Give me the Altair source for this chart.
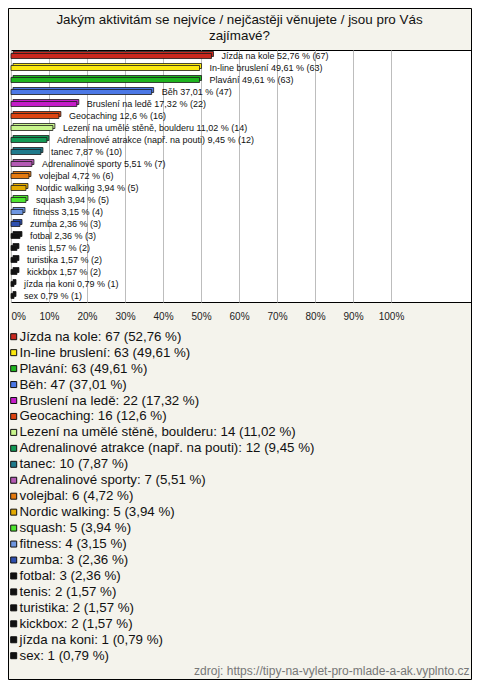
import altair as alt
import pandas as pd

title_lines = ["Jakým aktivitám se nejvíce / nejčastěji věnujete / jsou pro Vás", "zajímavé?"]
source_text = "zdroj: https://tipy-na-vylet-pro-mlade-a-ak.vyplnto.cz"

categories = [
    "Jízda na kole", "In-line bruslení", "Plavání", "Běh", "Bruslení na ledě",
    "Geocaching", "Lezení na umělé stěně, boulderu", "Adrenalinové atrakce (např. na pouti)",
    "tanec", "Adrenalinové sporty", "volejbal", "Nordic walking", "squash", "fitness",
    "zumba", "fotbal", "tenis", "turistika", "kickbox", "jízda na koni", "sex",
]
counts = [67, 63, 63, 47, 22, 16, 14, 12, 10, 7, 6, 5, 5, 4, 3, 3, 2, 2, 2, 1, 1]
percents = [52.76, 49.61, 49.61, 37.01, 17.32, 12.6, 11.02, 9.45, 7.87, 5.51, 4.72,
            3.94, 3.94, 3.15, 2.36, 2.36, 1.57, 1.57, 1.57, 0.79, 0.79]
colors = ["#c8281e", "#fbe80f", "#1eb41e", "#4b78e6", "#c41cc8", "#dd4411", "#c8f58c",
          "#129955", "#1f7a8c", "#b45ab4", "#e57a0f", "#e3aa00", "#4ee62f", "#6e96e0",
          "#2e4fae", "#111111", "#111111", "#111111", "#111111", "#111111", "#111111"]
tick_values = [0, 10, 20, 30, 40, 50, 60, 70, 80, 90, 100]

FONT = "Liberation Sans"


def fmt(p):
    return str(p).replace(".", ",")


df = pd.DataFrame({
    "cat": categories,
    "n": counts,
    "pct": percents,
    "idx": list(range(len(categories))),
})
df["bar_label"] = [f"{c} {fmt(p)} % ({n})" for c, p, n in zip(categories, percents, counts)]
df["leg_label"] = [f"{c}: {n} ({fmt(p)} %)" for c, p, n in zip(categories, percents, counts)]

color_scale = alt.Scale(domain=categories, range=colors)
xscale = alt.Scale(domain=[0, 121.05], nice=False, zero=True)
yband = alt.Scale(domain=categories, paddingInner=0, paddingOuter=0)
xaxis = alt.Axis(
    values=tick_values, labelExpr="datum.value + '%'", grid=True,
    gridColor="#bdbdbd", gridWidth=1, domain=False, ticks=False, tickSize=0,
    labelPadding=9, labelFontSize=10, labelFont=FONT, labelColor="#222222",
    labelFlush=True, title=None)
xenc = alt.X("pct:Q", scale=xscale, axis=xaxis)
yenc = alt.Y("cat:N", scale=yband, sort=categories, axis=None)

base = alt.Chart(df)

bars_back = base.mark_bar(size=5, xOffset=2, x2Offset=2, yOffset=-2, y2Offset=-2,
                          stroke="#1a1a1a", strokeWidth=0.8).encode(
    x=xenc, y=yenc,
    color=alt.Color("cat:N", scale=color_scale, legend=None),
)

bars_front = base.mark_bar(size=5, stroke="#1a1a1a", strokeWidth=0.8).encode(
    x=xenc, y=yenc,
    color=alt.Color("cat:N", scale=color_scale, legend=None),
)

bar_labels = base.mark_text(align="left", baseline="middle", dx=10, fontSize=9,
                            font=FONT, color="#111111").encode(
    x=xenc, y=yenc,
    text="bar_label:N",
)

leg_y = alt.Y("idx:Q", scale=alt.Scale(domain=[0, 20], range=[286.7, 605.7], nice=False, zero=False), axis=None)

leg_squares = base.mark_square(size=36, stroke="#111111", strokeWidth=1, opacity=1).encode(
    x=alt.value(2.7),
    y=leg_y,
    color=alt.Color("cat:N", scale=color_scale, legend=None),
)

leg_text = base.mark_text(align="left", baseline="middle", fontSize=13.3, font=FONT,
                          color="#111111").encode(
    x=alt.value(8.5),
    y=leg_y,
    text="leg_label:N",
)

title_df = pd.DataFrame({"t": title_lines, "line": [0, 1]})
title_layer = alt.Chart(title_df).mark_text(align="center", baseline="alphabetic", fontSize=13.4,
                                            font=FONT, color="#111111").encode(
    x=alt.value(228.5),
    y=alt.Y("line:Q", scale=alt.Scale(domain=[0, 1], range=[-26, -10.5], nice=False, zero=False), axis=None),
    text="t:N",
)

src_layer = alt.Chart(pd.DataFrame({"t": [source_text]})).mark_text(
    align="right", baseline="alphabetic", fontSize=12, font=FONT, color="#777777").encode(
    x=alt.value(458.5),
    y=alt.value(625),
    text="t:N",
)

border = alt.Chart(pd.DataFrame({"a": [0]})).mark_rect(
    fillOpacity=0, stroke="#000000", strokeWidth=1).encode(
    x=alt.value(-2.5), x2=alt.value(460.5), y=alt.value(-41.5), y2=alt.value(629.5),
)

chart = alt.layer(
    bars_back, bars_front, bar_labels, leg_squares, leg_text, title_layer, src_layer, border
).resolve_scale(y="independent").properties(
    width=460, height=252,
    padding={"left": 3, "top": 42, "right": 1, "bottom": 378},
    autosize=alt.AutoSizeParams(type="none"),
    background="#f4f3ec",
).configure_view(stroke="#000000", strokeWidth=1, fill="#ffffff")

chart.save("out.html", embed_options={"renderer": "svg", "actions": False})
